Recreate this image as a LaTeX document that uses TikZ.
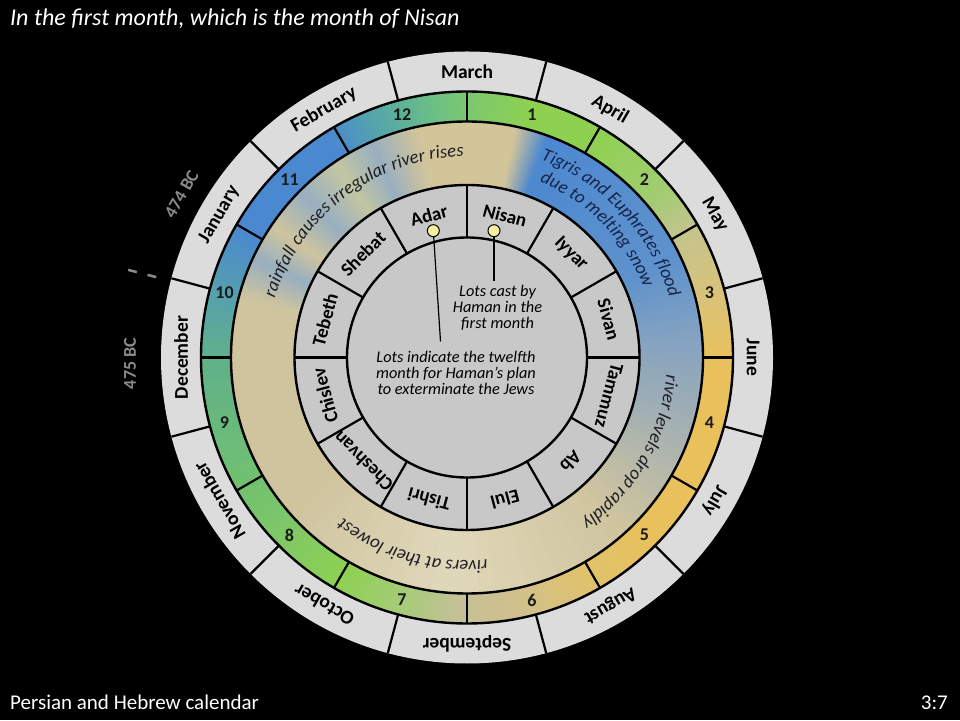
\documentclass[tikz,border=0pt]{standalone}
\usepackage{fontspec}
\setmainfont{Carlito}
\usetikzlibrary{decorations.text}
\definecolor{mgray}{HTML}{DCDCDC}
\definecolor{hgray}{HTML}{C8C8C8}
\definecolor{numtxt}{HTML}{1A1A1A}
\definecolor{dotyellow}{HTML}{F4F0A0}
\definecolor{bcgray}{HTML}{8A8A8A}
\definecolor{arctxt}{HTML}{1E1E26}
\definecolor{navytxt}{HTML}{16244A}
% season colours
\definecolor{sTan}{HTML}{D3C59A}
\definecolor{sBlue}{HTML}{4D88D0}
\definecolor{sBlueB}{HTML}{5E92CC}
\definecolor{sBG}{HTML}{88A4C0}
\definecolor{sBGB}{HTML}{A0AEB4}
\definecolor{sBeige}{HTML}{CFC49E}
\definecolor{sCream}{HTML}{E0D8BA}
\definecolor{sStreak}{HTML}{98AFC0}
\definecolor{sGreenTan}{HTML}{C4C6A2}
% number ring colours
\definecolor{nA}{HTML}{7CC870}
\definecolor{nG}{HTML}{8ED150}
\definecolor{nB}{HTML}{A2CC72}
\definecolor{nC}{HTML}{C4C48E}
\definecolor{nD}{HTML}{D8C27A}
\definecolor{nGold}{HTML}{E8C15C}
\definecolor{nE}{HTML}{E0C26E}
\definecolor{nF}{HTML}{CFC08E}
\definecolor{nH}{HTML}{C4C197}
\definecolor{nI}{HTML}{A6CB78}
\definecolor{nJ}{HTML}{8DD152}
\definecolor{nK}{HTML}{80C866}
\definecolor{nL}{HTML}{72C170}
\definecolor{nM}{HTML}{60B08A}
\definecolor{nN}{HTML}{56A0AE}
\definecolor{nBlue}{HTML}{4A88D0}
\definecolor{nO}{HTML}{55A8A6}
\definecolor{nP}{HTML}{6ABF86}

\newcommand\conicring[3]{%
  \foreach \a/\ca/\b/\cb in {#3}{%
    \foreach \k in {0,...,11}{%
      \pgfmathsetmacro\sa{\a+(\b-\a)*\k/12}%
      \pgfmathsetmacro\sb{\a+(\b-\a)*(\k+1)/12-0.4}%
      \pgfmathtruncatemacro\p{100-(\k+0.5)*100/12}%
      \colorlet{cmix}{\ca!\p!\cb}%
      \fill[cmix] (\sa:#1) arc[start angle=\sa, end angle=\sb, radius=#1]
        -- (\sb:#2) arc[start angle=\sb, end angle=\sa, radius=#2] -- cycle;
    }%
  }%
}

\begin{document}
\begin{tikzpicture}[x=1pt,y=1pt,
  mlab/.style={font=\bfseries\fontsize{19.5}{19.5}\selectfont, text=black, inner sep=0pt},
  hlab/.style={font=\bfseries\fontsize{19}{19}\selectfont, text=black, inner sep=0pt},
  nlab/.style={font=\bfseries\fontsize{18}{18}\selectfont, text=numtxt, inner sep=0pt},
  ringline/.style={draw=black, line width=2.4pt},
  divider/.style={draw=black, line width=2.2pt},
  dotnode/.style={circle, draw=black, fill=dotyellow, line width=1pt, minimum size=12pt, inner sep=0pt},
  leader/.style={draw=black, line width=1.2pt},
  bclab/.style={font=\bfseries\fontsize{18}{18}\selectfont, text=bcgray, inner sep=0pt},
  dashline/.style={draw=bcgray, line width=2.5pt},
  note/.style={font=\itshape\fontsize{16.3}{16.3}\selectfont, align=center, text=black, inner sep=0pt},
  slidetext/.style={text=white, inner sep=0pt},
]
\fill[black] (0,0) rectangle (960,720);
\useasboundingbox (0,0) rectangle (960,720);

\node[slidetext, anchor=base west, font=\itshape\fontsize{24}{24}\selectfont] (title) at (10,694) {In the first month, which is the month of Nisan};
\node[slidetext, anchor=base west, font=\fontsize{21}{21}\selectfont] (footer) at (10,11) {Persian and Hebrew calendar};
\node[slidetext, anchor=base east, font=\fontsize{21}{21}\selectfont] (pagenum) at (948,11) {3:7};

\begin{scope}[shift={(467,362.5)}]
  \fill[mgray] (0,0) circle[radius=306];
  % number ring
  \conicring{236}{266}{90/nA/75/nG, 75/nG/60/nG, 60/nG/40/nB, 40/nB/30/nC, 30/nC/15/nD,
    15/nD/0/nGold, 0/nGold/-45/nGold, -45/nGold/-62/nE, -62/nE/-80/nF, -80/nF/-92/nH,
    -92/nH/-105/nI, -105/nI/-120/nJ, -120/nJ/-135/nK, -135/nK/-150/nL, -150/nL/-180/nM,
    -180/nM/-195/nN, -195/nN/-210/nBlue, -210/nBlue/-238/nBlue, -238/nBlue/-250/nO,
    -250/nO/-262/nP, -262/nP/-270/nA}
  % season band
  \conicring{172.5}{236}{90/sTan/78/sTan, 78/sTan/70/sBlue, 70/sBlue/25/sBlueB,
    25/sBlueB/3/sBG, 3/sBG/-15/sBGB, -15/sBGB/-48/sBeige, -48/sBeige/-95/sCream,
    -95/sCream/-140/sBeige, -140/sBeige/-195/sBeige, -195/sBeige/-205/sStreak,
    -205/sStreak/-214/sBeige, -214/sBeige/-225/sStreak, -225/sStreak/-236/sGreenTan,
    -236/sGreenTan/-246/sStreak, -246/sStreak/-258/sTan, -258/sTan/-270/sTan}
  \fill[hgray] (0,0) circle[radius=172.5];

  % ring lines and dividers
  \draw[ringline] (0,0) circle[radius=266];
  \draw[ringline] (0,0) circle[radius=236];
  \draw[ringline] (0,0) circle[radius=172.5];
  \draw[ringline] (0,0) circle[radius=120];
  \foreach \t in {75,105,...,405} \draw[divider] (\t:266) -- (\t:306);
  \foreach \t in {0,30,...,330} \draw[divider] (\t:236) -- (\t:266);
  \foreach \t in {0,30,...,330} \draw[divider] (\t:120) -- (\t:172.5);

  % Gregorian months
  \foreach \nm/\a [count=\i] in {March/90, April/60, May/30, June/0, July/-30, August/-60,
      September/-90, October/-120, November/-150, December/-180, January/150, February/120}
    \node[mlab, rotate=\a-90] (g\i) at (\a:286) {\nm};

  % Hebrew months
  \foreach \nm/\a [count=\i] in {Nisan/75, Iyyar/45, Sivan/15, Tammuz/-15, Ab/-45, Elul/-75,
      Tishri/-105, Cheshvan/-135, Chislev/-165, Tebeth/165, Shebat/135, Adar/105}
    \node[hlab, rotate=\a-90] (h\i) at (\a:147) {\nm};

  % month numbers
  \foreach \i in {1,...,12}{
    \pgfmathsetmacro\ang{75-30*(\i-1)}
    \node[nlab] (n\i) at (\ang:251) {\i};
  }

  % season texts
  \path[decorate, decoration={text along path, text align=center, text color=arctxt,
    text={|\itshape\fontsize{18.5}{18.5}\selectfont|rainfall causes irregular river rises}}]
    (172:201) arc[start angle=172, end angle=82, radius=201];
  \path[decorate, decoration={text along path, text align=center, text color=navytxt,
    text={|\itshape\fontsize{18.5}{18.5}\selectfont|Tigris and Euphrates flood}}]
    (88:211) arc[start angle=88, end angle=-2, radius=211];
  \path[decorate, decoration={text along path, text align=center, text color=navytxt,
    text={|\itshape\fontsize{18.5}{18.5}\selectfont|due to melting snow}}]
    (89.5:190) arc[start angle=89.5, end angle=-0.5, radius=190];
  \path[decorate, decoration={text along path, text align=center, text color=arctxt,
    text={|\itshape\fontsize{18.5}{18.5}\selectfont|river levels drop rapidly}}]
    (15:200) arc[start angle=15, end angle=-75, radius=200];
  \path[decorate, decoration={text along path, text align=center, text color=arctxt,
    text={|\itshape\fontsize{18.5}{18.5}\selectfont|rivers at their lowest}}]
    (-61:203) arc[start angle=-61, end angle=-151, radius=203];

  % lots
  \node[dotnode] (adardot) at (-33.7,126.8) {};
  \node[dotnode] (nisandot) at (27,126.8) {};
  \coordinate (nisanend) at (27,76);
  \coordinate (adarend) at (-26.5,16);
  \draw[leader] (nisandot) -- (nisanend);
  \draw[leader] (adardot) -- (adarend);
  \node[note] (note1) at (30.5,49.5) {Lots cast by\\Haman in the\\first month};
  \node[note] (note2) at (-11,-15.5) {Lots indicate the twelfth\\month for Haman’s plan\\to exterminate the Jews};

  % year marks
  \node[bclab, rotate=60] (bc474) at (-285.5,163.5) {474 BC};
  \node[bclab, rotate=90] (bc475) at (-337,-6) {475 BC};
  \coordinate (da1) at (165.5:321);
  \coordinate (da2) at (165.5:330);
  \coordinate (db1) at (165.5:341);
  \coordinate (db2) at (165.5:350);
  \draw[dashline] (da1) -- (da2);
  \draw[dashline] (db1) -- (db2);
\end{scope}
\end{tikzpicture}
\end{document}
